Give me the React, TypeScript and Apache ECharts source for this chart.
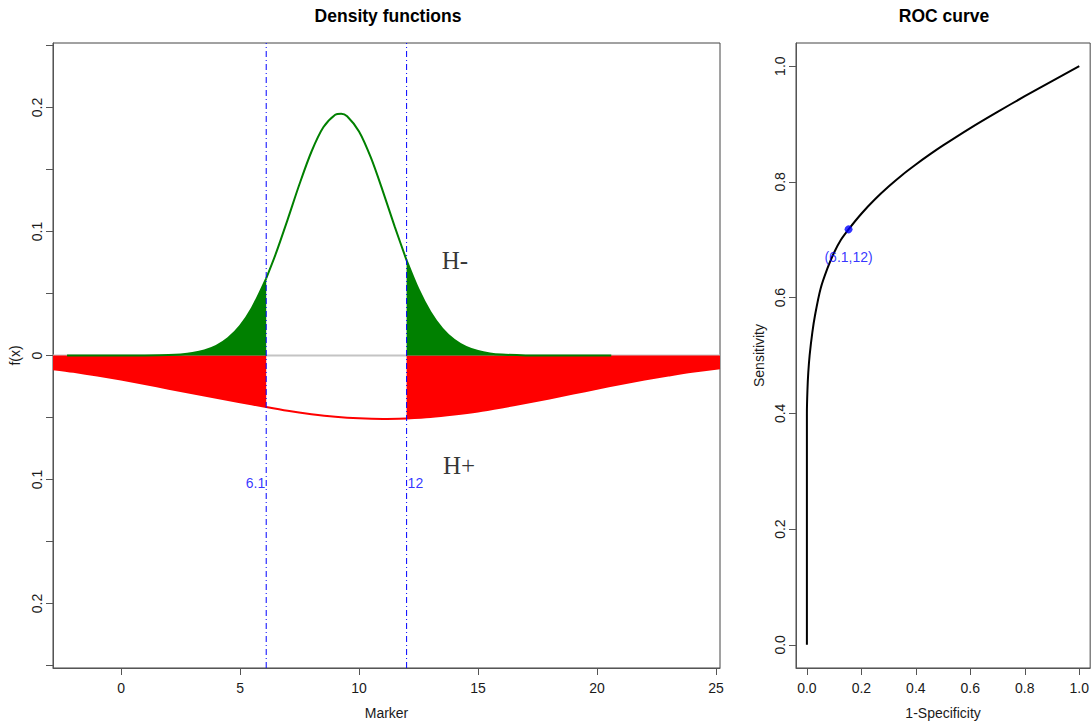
import React, { useEffect, useRef } from "react";
import * as echarts from "echarts";

const FONT = "'Liberation Sans Narrow', 'Arial Narrow', 'Liberation Sans', Arial, sans-serif";
const SERIF = "'Liberation Serif', 'Times New Roman', serif";

// Density of H- (green, positive side)
const greenX = [-2.27, -1, 0, 1, 2, 2.5, 3, 3.5, 4, 4.5, 5, 5.5, 6.1, 6.5, 7, 7.5, 8, 8.5, 9, 9.25, 9.5, 10, 10.5, 11, 11.5, 12, 12.5, 13, 13.5, 14, 14.5, 15, 15.5, 16, 17, 18, 19, 20.6];
const greenY = [0, 0, 0, 0.0001, 0.0004, 0.0009, 0.002, 0.0041, 0.0078, 0.0141, 0.0239, 0.0383, 0.0622, 0.0819, 0.1096, 0.1383, 0.1643, 0.184, 0.1941, 0.195, 0.1929, 0.1807, 0.1595, 0.1326, 0.1039, 0.0767, 0.0534, 0.035, 0.0216, 0.0126, 0.0069, 0.0036, 0.0017, 0.0008, 0.0001, 0, 0, 0];

// Density of H+ (red, drawn downwards)
const redX = [-2.86, -2, -1, 0, 1, 2, 3, 4, 5, 6.1, 7, 8, 9, 10, 11, 12, 13, 14, 15, 16, 17, 18, 19, 20, 21, 22, 23, 24, 25.17];
const redY = [-0.011, -0.0132, -0.0162, -0.0194, -0.023, -0.0268, -0.0305, -0.0341, -0.0378, -0.0415, -0.0446, -0.0473, -0.0494, -0.0507, -0.0512, -0.0508, -0.0496, -0.0476, -0.0451, -0.0419, -0.0384, -0.0346, -0.0307, -0.0268, -0.023, -0.0194, -0.0162, -0.0132, -0.0103];

const cutoffs = [6.1, 12];
const cutoffLabels = ["6.1", "12"];
const cutoffLabelY = -0.103;

const xMin = -2.86;
const xMax = 25.17;
const yMin = -0.252;
const yMax = 0.252;
const xTicks = [0, 5, 10, 15, 20, 25];
const yTicks = [-0.25, -0.2, -0.15, -0.1, -0.05, 0, 0.05, 0.1, 0.15, 0.2, 0.25];
const yLabelValues = [-0.2, -0.1, 0, 0.1, 0.2];

const hMinusPos = [14.03, 0.0766];
const hPlusPos = [14.2, -0.0887];

// ROC curve
const rocX = [0, 0, 0.002, 0.005, 0.01, 0.02, 0.03, 0.05, 0.075, 0.1, 0.125, 0.153, 0.2, 0.25, 0.3, 0.35, 0.4, 0.45, 0.5, 0.6, 0.7, 0.8, 0.9, 1];
const rocY = [0, 0.4, 0.44, 0.47, 0.5, 0.54, 0.57, 0.615, 0.65, 0.678, 0.7, 0.718, 0.745, 0.77, 0.792, 0.812, 0.83, 0.847, 0.863, 0.893, 0.921, 0.948, 0.974, 1];
const rocTicks = [0, 0.2, 0.4, 0.6, 0.8, 1];
const optimalPoint = [0.153, 0.718];
const optimalLabel = "(6.1,12)";

const pairs = (xs: number[], ys: number[]) => xs.map((x, i) => [x, ys[i]]);
const segment = (xs: number[], ys: number[], lo: number, hi: number) =>
  pairs(xs, ys).filter((p) => p[0] >= lo - 1e-9 && p[0] <= hi + 1e-9);

const GREEN = "#008000";
const RED = "#ff0000";
const BLUE = "#0000ff";
const AXIS = "#555555";
const TEXT = "#1a1a1a";
const LABEL_SIZE = 14;

function areaSeries(data: number[][], color: string, fill: boolean) {
  return {
    type: "line",
    xAxisIndex: 0,
    yAxisIndex: 0,
    data,
    symbol: "none",
    smooth: 0.3,
    z: 3,
    lineStyle: { color, width: 2 },
    itemStyle: { color },
    areaStyle: fill ? { color, opacity: 1, origin: 0 } : undefined,
    silent: true,
  };
}

export default function App() {
  const ref = useRef<HTMLDivElement>(null);
  useEffect(() => {
    if (!ref.current) return;
    const chart = echarts.init(ref.current, null, { renderer: "svg" });
    const lo = cutoffs[0];
    const hi = cutoffs[1];
    const tickStyle = { show: true, length: 7, lineStyle: { color: AXIS, width: 1 } };
    const labelStyle = { fontFamily: FONT, fontSize: LABEL_SIZE, color: TEXT };
    const titleStyle = { fontFamily: FONT, fontSize: 17.5, fontWeight: "bold", color: "#000" };
    chart.setOption({
      animation: false,
      backgroundColor: "#ffffff",
      title: [
        { text: "Density functions", left: 383, top: 2, textAlign: "center", textStyle: titleStyle },
        { text: "ROC curve", left: 939, top: 2, textAlign: "center", textStyle: titleStyle },
      ],
      grid: [
        { left: 53, top: 43, width: 667, height: 625, show: true, borderColor: "#444", borderWidth: 1, containLabel: false },
        { left: 796, top: 43, width: 297, height: 625, show: true, borderColor: "#444", borderWidth: 1, containLabel: false },
      ],
      xAxis: [
        {
          type: "value",
          gridIndex: 0,
          min: xMin,
          max: xMax,
          axisLine: { show: true, onZero: false, lineStyle: { color: AXIS } },
          axisTick: { ...tickStyle, customValues: xTicks },
          axisLabel: { ...labelStyle, customValues: xTicks, margin: 13 },
          splitLine: { show: false },
          name: "Marker",
          nameLocation: "middle",
          nameGap: 38,
          nameTextStyle: labelStyle,
        },
        {
          type: "value",
          gridIndex: 1,
          min: -0.04,
          max: 1.04,
          axisLine: { show: true, onZero: false, lineStyle: { color: AXIS } },
          axisTick: { ...tickStyle, customValues: rocTicks },
          axisLabel: { ...labelStyle, customValues: rocTicks, margin: 13, formatter: (v: number) => v.toFixed(1) },
          splitLine: { show: false },
          name: "1-Specificity",
          nameLocation: "middle",
          nameGap: 38,
          nameTextStyle: labelStyle,
        },
      ],
      yAxis: [
        {
          type: "value",
          gridIndex: 0,
          min: yMin,
          max: yMax,
          axisLine: { show: true, onZero: false, lineStyle: { color: AXIS } },
          axisTick: { ...tickStyle, customValues: yTicks },
          axisLabel: {
            ...labelStyle,
            customValues: yLabelValues,
            rotate: 90,
            margin: 9,
            formatter: (v: number) => (Math.abs(v) < 1e-9 ? "0" : String(Math.abs(v))),
          },
          splitLine: { show: false },
          name: "f(x)",
          nameLocation: "middle",
          nameGap: 28,
          nameRotate: 90,
          nameTextStyle: labelStyle,
        },
        {
          type: "value",
          gridIndex: 1,
          min: -0.04,
          max: 1.04,
          axisLine: { show: true, onZero: false, lineStyle: { color: AXIS } },
          axisTick: { ...tickStyle, customValues: rocTicks },
          axisLabel: {
            ...labelStyle,
            customValues: rocTicks,
            rotate: 90,
            margin: 9,
            formatter: (v: number) => v.toFixed(1),
          },
          splitLine: { show: false },
          name: "Sensitivity",
          nameLocation: "middle",
          nameGap: 30,
          nameRotate: 90,
          nameTextStyle: labelStyle,
        },
      ],
      series: [
        {
          type: "line",
          xAxisIndex: 0,
          yAxisIndex: 0,
          data: [[xMin, 0], [xMax, 0]],
          symbol: "none",
          z: 1,
          lineStyle: { color: "#c4c4c4", width: 2 },
          silent: true,
        },
        areaSeries(segment(redX, redY, -Infinity, lo), RED, true),
        areaSeries(segment(redX, redY, lo, hi), RED, false),
        areaSeries(segment(redX, redY, hi, Infinity), RED, true),
        areaSeries(segment(greenX, greenY, -Infinity, lo), GREEN, true),
        areaSeries(segment(greenX, greenY, lo, hi), GREEN, false),
        areaSeries(segment(greenX, greenY, hi, Infinity), GREEN, true),
        ...cutoffs.map((c) => ({
          type: "line",
          xAxisIndex: 0,
          yAxisIndex: 0,
          data: [[c, yMin], [c, yMax]],
          symbol: "none",
          z: 6,
          lineStyle: { color: BLUE, width: 1, type: [6, 3, 1, 3] },
          silent: true,
        })),
        {
          type: "scatter",
          xAxisIndex: 0,
          yAxisIndex: 0,
          symbolSize: 0,
          z: 7,
          itemStyle: { color: "transparent" },
          data: cutoffs.map((c, i) => ({
            value: [c, cutoffLabelY],
            label: {
              show: true,
              formatter: cutoffLabels[i],
              position: i === 0 ? "left" : "right",
              distance: 1,
              fontFamily: FONT,
              fontSize: LABEL_SIZE,
              color: BLUE,
            },
          })),
          silent: true,
        },
        {
          type: "scatter",
          xAxisIndex: 0,
          yAxisIndex: 0,
          symbolSize: 0,
          z: 7,
          itemStyle: { color: "transparent" },
          data: [
            { value: hMinusPos, label: { show: true, formatter: "H-" } },
            { value: hPlusPos, label: { show: true, formatter: "H+" } },
          ],
          label: { show: true, position: "inside", fontFamily: SERIF, fontSize: 25, color: "#000" },
          silent: true,
        },
        {
          type: "line",
          xAxisIndex: 1,
          yAxisIndex: 1,
          data: pairs(rocX, rocY),
          symbol: "none",
          smooth: 0.3,
          z: 3,
          lineStyle: { color: "#000", width: 2 },
          silent: true,
        },
        {
          type: "scatter",
          xAxisIndex: 1,
          yAxisIndex: 1,
          symbolSize: 8,
          z: 5,
          itemStyle: { color: BLUE },
          data: [optimalPoint],
          label: {
            show: true,
            formatter: optimalLabel,
            position: "bottom",
            distance: 17,
            fontFamily: FONT,
            fontSize: LABEL_SIZE,
            color: BLUE,
          },
          silent: true,
        },
      ],
    });
    return () => chart.dispose();
  }, []);
  return (
    <div
      ref={ref}
      style={{ position: "fixed", left: 0, top: 0, width: 1092, height: 727, background: "#fff" }}
    />
  );
}
